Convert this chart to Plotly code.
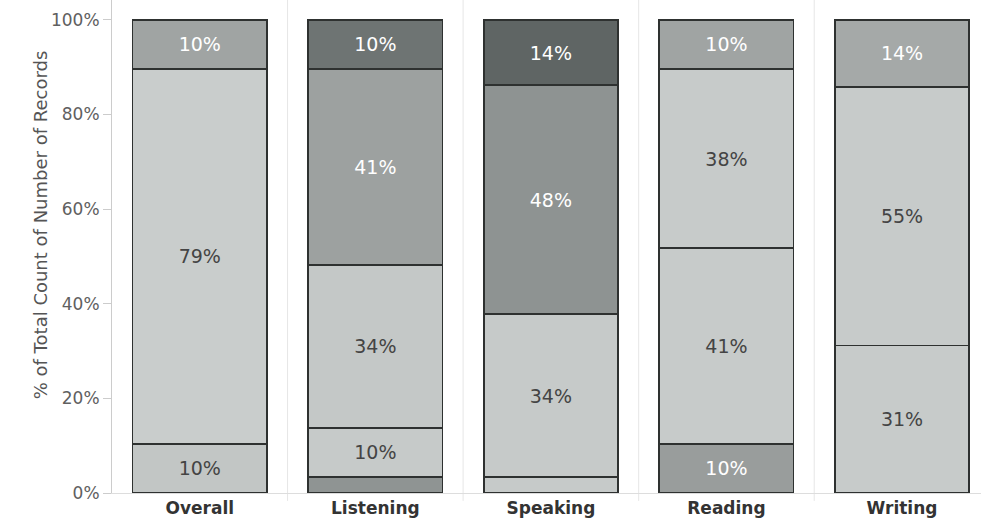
import plotly.graph_objects as go

# Skill areas shown as small-multiple panels
categories = ["Overall", "Listening", "Speaking", "Reading", "Writing"]

# Share of records (%) per score band, stacked bottom to top (None = band absent)
band_1 = [None, 3.4, 3.4, None, None]
band_2 = [10.4, 10.4, None, 10.4, None]
band_3 = [79.2, 34.4, 34.4, 41.4, 31.2]
band_4 = [None, 41.4, 48.4, 37.8, 54.6]
band_5 = [10.4, 10.4, 13.8, 10.4, 14.2]

bands = [band_1, band_2, band_3, band_4, band_5]

# Fill colours per band and panel
band_colors = [
    ["#c4c8c7", "#8f9493", "#c6cac9", "#c4c8c7", "#c4c8c7"],
    ["#c2c6c5", "#c6cac9", "#c6cac9", "#999d9c", "#c6cac9"],
    ["#c9cdcc", "#c4c8c7", "#c6cac9", "#c7cbca", "#c7cbca"],
    ["#c9cdcc", "#9da1a0", "#8e9392", "#c7cbca", "#c7cbca"],
    ["#a0a4a3", "#6e7473", "#5f6564", "#a0a4a3", "#a5a9a8"],
]
dark_fill = {"#999d9c", "#9da1a0", "#8e9392", "#a0a4a3", "#6e7473", "#5f6564", "#a5a9a8"}

y_ticks = [0, 20, 40, 60, 80, 100]
y_tick_text = ["0%", "20%", "40%", "60%", "80%", "100%"]

FONT = "DejaVu Sans, Verdana, sans-serif"

fig = go.Figure()
for values, colors in zip(bands, band_colors):
    labels = [f"{v:.0f}%" if (v is not None and v >= 5) else "" for v in values]
    text_colors = ["#ffffff" if c in dark_fill else "#444444" for c in colors]
    fig.add_trace(go.Bar(
        x=categories,
        y=values,
        width=0.765,
        marker=dict(color=colors, line=dict(color="#2e3130", width=1.6)),
        text=labels,
        textposition="inside",
        insidetextanchor="middle",
        textangle=0,
        constraintext="none",
        textfont=dict(family=FONT, size=19, color=text_colors),
        showlegend=False,
        hoverinfo="skip",
    ))

# Faint dividers between the panels
for i in range(len(categories) - 1):
    fig.add_shape(type="line", xref="x", yref="paper",
                  x0=i + 0.5, x1=i + 0.5, y0=-0.016, y1=1,
                  line=dict(color="#e6e6e6", width=1), layer="below")

fig.add_annotation(
    text="% of Total Count of Number of Records",
    xref="paper", yref="paper", x=-0.0829, y=0.545,
    xanchor="center", yanchor="middle",
    textangle=-90, showarrow=False,
    font=dict(family=FONT, size=18, color="#555555"),
)

fig.update_layout(
    width=981, height=525,
    margin=dict(l=112, r=0, t=0, b=32),
    barmode="stack",
    plot_bgcolor="white",
    paper_bgcolor="white",
    font=dict(family=FONT),
    xaxis=dict(
        range=[-0.5, 4.45],
        showgrid=False, zeroline=False,
        showline=True, linecolor="#dddddd", linewidth=1,
        ticks="", tickfont=dict(size=17, color="#333333", family=FONT),
        tickprefix="<b>", ticksuffix="</b>",
        fixedrange=True,
    ),
    yaxis=dict(
        range=[0, 104.2],
        tickvals=y_ticks, ticktext=y_tick_text,
        showgrid=False, zeroline=False,
        showline=True, linecolor="#cccccc", linewidth=1,
        ticks="outside", ticklen=8, tickcolor="#cccccc",
        tickfont=dict(size=17, color="#606060"),
        fixedrange=True,
    ),
)

fig.write_html("out.html")
